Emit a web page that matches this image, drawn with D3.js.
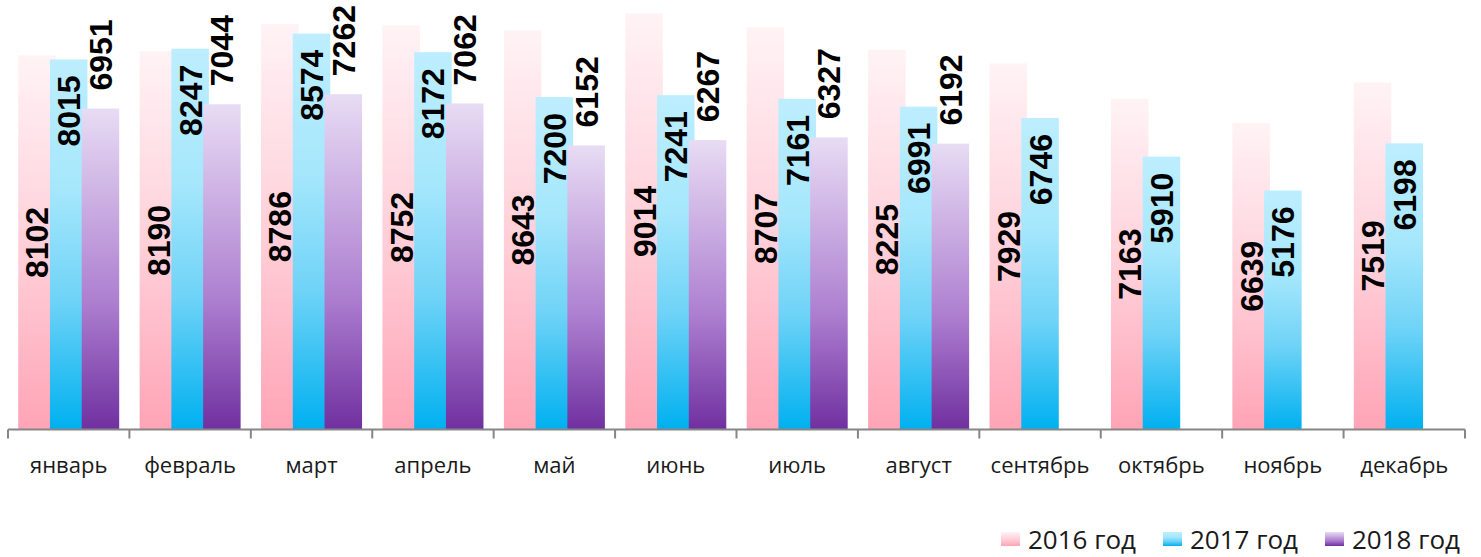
<!DOCTYPE html>
<html>
<head>
<meta charset="utf-8">
<script src="https://cdn.jsdelivr.net/npm/d3@7"></script>
<style>
  html, body { margin: 0; padding: 0; background: #fff; }
  svg { display: block; }
</style>
</head>
<body>
<div id="chart"></div>
<script>
(function () {
  const WIDTH  = 1481;
  const HEIGHT = 557;

  const months = ["январь", "февраль", "март", "апрель", "май", "июнь",
                  "июль", "август", "сентябрь", "октябрь", "ноябрь", "декабрь"];
  const seriesNames = ["2016 год", "2017 год", "2018 год"];
  const values2016 = [8102, 8190, 8786, 8752, 8643, 9014, 8707, 8225, 7929, 7163, 6639, 7519];
  const values2017 = [8015, 8247, 8574, 8172, 7200, 7241, 7161, 6991, 6746, 5910, 5176, 6198];
  const values2018 = [6951, 7044, 7262, 7062, 6152, 6267, 6327, 6192, null, null, null, null];

  const allSeries = [values2016, values2017, values2018];

  // gradient stops, bottom (0) to top (1)
  const gradients = [
    [["0%", "#ffa4b6"], ["45%", "#ffcdd7"], ["100%", "#fff3f6"]],
    [["0%", "#00b0f0"], ["35%", "#6fd3f7"], ["65%", "#a6e7fc"], ["100%", "#bdeeff"]],
    [["0%", "#7030a0"], ["40%", "#ad7fd0"], ["100%", "#e8dcf4"]]
  ];

  const svg = d3.select("#chart").append("svg")
    .attr("width", WIDTH)
    .attr("height", HEIGHT);

  const defs = svg.append("defs");
  gradients.forEach((stops, i) => {
    const g = defs.append("linearGradient")
      .attr("id", "grad" + i)
      .attr("x1", 0).attr("y1", 1)
      .attr("x2", 0).attr("y2", 0);
    stops.forEach(([off, col]) => {
      g.append("stop").attr("offset", off).attr("stop-color", col);
    });
  });

  const x = d3.scaleBand()
    .domain(months)
    .range([8, 1465]);

  const y = d3.scaleLinear()
    .domain([0, 9014])
    .range([429.5, 13.3]);

  const barW = 37.5;
  const xSub = d3.scalePoint()
    .domain([0, 1, 2])
    .range([-31.75, 31.75]);

  // bars
  allSeries.forEach((vals, si) => {
    svg.append("g")
      .selectAll("rect")
      .data(vals.map((v, i) => ({ m: months[i], v })).filter(d => d.v != null))
      .join("rect")
      .attr("x", d => x(d.m) + x.bandwidth() / 2 + xSub(si) - barW / 2)
      .attr("y", d => y(d.v))
      .attr("width", barW)
      .attr("height", d => y(0) - y(d.v))
      .attr("fill", `url(#grad${si})`);
  });

  // value labels: 2016 centred, 2017 inside end, 2018 outside end
  allSeries.forEach((vals, si) => {
    svg.append("g")
      .selectAll("text")
      .data(vals.map((v, i) => ({ m: months[i], v })).filter(d => d.v != null))
      .join("text")
      .attr("transform", d => {
        const cx = x(d.m) + x.bandwidth() / 2 + xSub(si);
        let ty;
        if (si === 0) ty = (y(d.v) + y(0)) / 2;
        else if (si === 1) ty = y(d.v) + 16;
        else ty = y(d.v) - 18;
        return `translate(${cx},${ty}) rotate(-90)`;
      })
      .attr("dy", "0.36em")
      .attr("text-anchor", si === 0 ? "middle" : si === 1 ? "end" : "start")
      .attr("font-family", "'Liberation Sans', Arial, sans-serif")
      .attr("font-weight", 700)
      .attr("font-size", "32px")
      .attr("fill", "#000")
      .text(d => d.v);
  });

  // axis
  const axis = svg.append("g").attr("stroke", "#868686").attr("stroke-width", 2);
  axis.append("line")
    .attr("x1", x.range()[0]).attr("x2", x.range()[1])
    .attr("y1", y(0)).attr("y2", y(0));
  const bounds = months.map(m => x(m)).concat([x.range()[1]]);
  axis.selectAll("line.tick")
    .data(bounds)
    .join("line")
    .attr("class", "tick")
    .attr("x1", d => d).attr("x2", d => d)
    .attr("y1", y(0)).attr("y2", y(0) + 9);

  svg.append("g")
    .selectAll("text")
    .data(months)
    .join("text")
    .attr("x", d => x(d) + x.bandwidth() / 2)
    .attr("y", 473)
    .attr("text-anchor", "middle")
    .attr("font-family", "'Open Sans', sans-serif")
    .attr("font-size", "22px")
    .attr("fill", "#1a1a1a")
    .text(d => d);

  // legend
  const legend = svg.append("g");
  const legendX = [1001, 1163, 1325];
  seriesNames.forEach((name, i) => {
    legend.append("rect")
      .attr("x", legendX[i]).attr("y", 532)
      .attr("width", 19).attr("height", 14)
      .attr("fill", `url(#grad${i})`);
    legend.append("text")
      .attr("x", legendX[i] + 27).attr("y", 549)
      .attr("font-family", "'Open Sans', sans-serif")
      .attr("font-size", "26px")
      .attr("fill", "#1a1a1a")
      .text(name);
  });
})();
</script>
</body>
</html>
